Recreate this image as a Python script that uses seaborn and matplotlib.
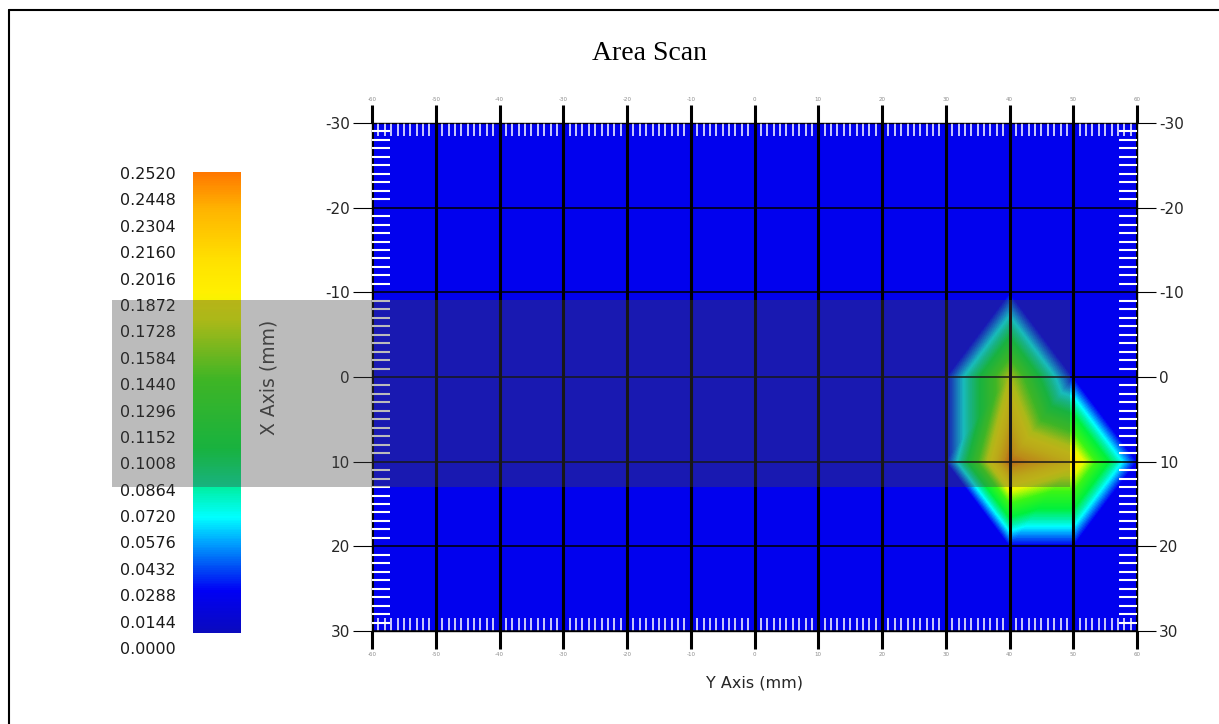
import numpy as np
import matplotlib
matplotlib.use("Agg")
import matplotlib.pyplot as plt
import matplotlib.tri as mtri
from matplotlib.colors import LinearSegmentedColormap, Normalize
from matplotlib.cm import ScalarMappable
from matplotlib.patches import Rectangle
from matplotlib.lines import Line2D
import seaborn as sns

# Scan positions (mm): horizontal = Y axis, vertical = X axis
y_positions = [-60, -50, -40, -30, -20, -10, 0, 10, 20, 30, 40, 50, 60]
x_positions = [-30, -20, -10, 0, 10, 20, 30]

# Measured amplitude per scan point (rows follow x_positions, columns y_positions)
amplitude = [
    [0.02, 0.02, 0.02, 0.02, 0.02, 0.02, 0.02, 0.02, 0.02, 0.02, 0.02, 0.02, 0.02],
    [0.02, 0.02, 0.02, 0.02, 0.02, 0.02, 0.02, 0.02, 0.02, 0.02, 0.02, 0.02, 0.02],
    [0.02, 0.02, 0.02, 0.02, 0.02, 0.02, 0.02, 0.02, 0.02, 0.02, 0.02, 0.02, 0.02],
    [0.02, 0.02, 0.02, 0.02, 0.02, 0.02, 0.02, 0.02, 0.02, 0.02, 0.17, 0.02, 0.02],
    [0.02, 0.02, 0.02, 0.02, 0.02, 0.02, 0.02, 0.02, 0.02, 0.02, 0.25, 0.20, 0.02],
    [0.02, 0.02, 0.02, 0.02, 0.02, 0.02, 0.02, 0.02, 0.02, 0.02, 0.02, 0.02, 0.02],
    [0.02, 0.02, 0.02, 0.02, 0.02, 0.02, 0.02, 0.02, 0.02, 0.02, 0.02, 0.02, 0.02],
]

scale_min = 0.0
scale_max = 0.2520
scale_labels = ["0.2520", "0.2448", "0.2304", "0.2160", "0.2016", "0.1872",
                "0.1728", "0.1584", "0.1440", "0.1296", "0.1152", "0.1008",
                "0.0864", "0.0720", "0.0576", "0.0432", "0.0288", "0.0144",
                "0.0000"]

# Amplitude colour scale
scale_stops = [
    (0.00, "#0a0abe"), (0.09, "#0000f5"), (0.143, "#0050f5"), (0.20, "#00aaff"),
    (0.25, "#00ffff"), (0.31, "#00f0aa"), (0.40, "#00f03c"), (0.55, "#3cf514"),
    (0.68, "#e6fa00"), (0.74, "#fff000"), (0.81, "#ffe100"), (0.92, "#ffb400"),
    (1.00, "#ff7800"),
]

sns.set_theme(style="white")
plt.rcParams["font.family"] = ["DejaVu Sans"]
plt.rcParams["axes.unicode_minus"] = False

cmap = LinearSegmentedColormap.from_list("scan", scale_stops)
norm = Normalize(vmin=scale_min, vmax=scale_max)

W, H = 1219, 724
fig = plt.figure(figsize=(W / 100, H / 100), dpi=100)
fig.patch.set_facecolor("white")


def fx(px):
    return px / W


def fy(py):
    return 1 - py / H


ax = fig.add_axes([fx(372), fy(631), fx(1137) - fx(372), fy(123) - fy(631)])

# Triangulate the scan grid, cutting each cell along its lower-valued diagonal
Yg, Xg = np.meshgrid(y_positions, x_positions)
z = np.asarray(amplitude, dtype=float).ravel()
nx, ny = len(x_positions), len(y_positions)
triangles = []
for i in range(nx - 1):
    for j in range(ny - 1):
        a, b = i * ny + j, i * ny + j + 1
        c, d = (i + 1) * ny + j, (i + 1) * ny + j + 1
        if z[a] + z[d] <= z[b] + z[c]:
            triangles += [(a, b, d), (a, d, c)]
        else:
            triangles += [(a, b, c), (b, d, c)]
tri = mtri.Triangulation(Yg.ravel(), Xg.ravel(), triangles)

# Linear field over the triangles, filled in fine value bands
levels = np.linspace(scale_min, scale_max, 160)
ax.tricontourf(tri, z, levels=levels, cmap=cmap, norm=norm, antialiased=False)

ax.set_xlim(y_positions[0], y_positions[-1])
ax.set_ylim(x_positions[-1], x_positions[0])
ax.set_axisbelow(False)

ax.set_xticks(y_positions)
ax.set_xticklabels([str(v) for v in y_positions])
ax.set_yticks(x_positions)
ax.set_yticklabels([str(v) for v in x_positions])
ax.set_xticks([v for v in range(-60, 61) if v % 10], minor=True)
ax.set_yticks([v for v in range(-30, 31) if v % 10], minor=True)

ax.tick_params(axis="x", which="major", direction="out", length=13, width=2.2,
               color="black", top=True, bottom=True, labeltop=True,
               labelbottom=True, labelsize=4, labelcolor="0.55", pad=2)
ax.tick_params(axis="x", which="minor", direction="in", length=9.5, width=1.1,
               color="white", top=True, bottom=True)
ax.tick_params(axis="y", which="major", direction="out", length=14, width=0.8,
               color="black", left=True, right=True, labelleft=True,
               labelright=True, labelsize=11, pad=2)
ax.tick_params(axis="y", which="minor", direction="in", length=13, width=1.5,
               color="white", left=True, right=True)

ax.xaxis.grid(True, which="major", color="black", linewidth=2.2)
ax.yaxis.grid(True, which="major", color="black", linewidth=1.1)
for s in ax.spines.values():
    s.set_color("black")
    s.set_linewidth(1.0)

ax.set_xlabel("Y Axis (mm)", fontsize=11.5, color="0.15")
ax.xaxis.set_label_coords(0.5, -0.088)
ax.set_ylabel("X Axis (mm)", fontsize=13.5, color="0.25")
ax.yaxis.set_label_coords(-0.122, 0.5)

fig.text(fx(649), fy(53), "Area Scan", family="Liberation Serif",
         fontsize=20, ha="center", va="center", color="black")

# Colour scale bar
cax = fig.add_axes([fx(193), fy(633), fx(241) - fx(193), fy(172) - fy(633)])
cb = fig.colorbar(ScalarMappable(norm=norm, cmap=cmap), cax=cax)
cb.outline.set_visible(False)
cax.set_yticks([])

# Scale values listed evenly beside the bar
lax = fig.add_axes([fx(176), fy(648), 0.0001, fy(173) - fy(648)])
lax.set_ylim(0, len(scale_labels) - 1)
lax.set_yticks(range(len(scale_labels)))
lax.set_yticklabels(scale_labels[::-1])
lax.set_xticks([])
lax.tick_params(axis="y", length=0, labelsize=11.5, pad=0, labelcolor="0.1")
for s in lax.spines.values():
    s.set_visible(False)
lax.patch.set_visible(False)

# Translucent selection band across the panel
fig.add_artist(Rectangle((fx(112), fy(487)), fx(1070) - fx(112), fy(300) - fy(487),
                         transform=fig.transFigure, facecolor=(0.27, 0.27, 0.27),
                         alpha=0.36, edgecolor="none", zorder=10))

# Window frame edges
fig.add_artist(Line2D([fx(9), fx(9)], [0, fy(10)], color="black", lw=1.5,
                      transform=fig.transFigure))
fig.add_artist(Line2D([fx(9), 1], [fy(10), fy(10)], color="black", lw=1.5,
                      transform=fig.transFigure))

fig.savefig("out.png", dpi=100)
